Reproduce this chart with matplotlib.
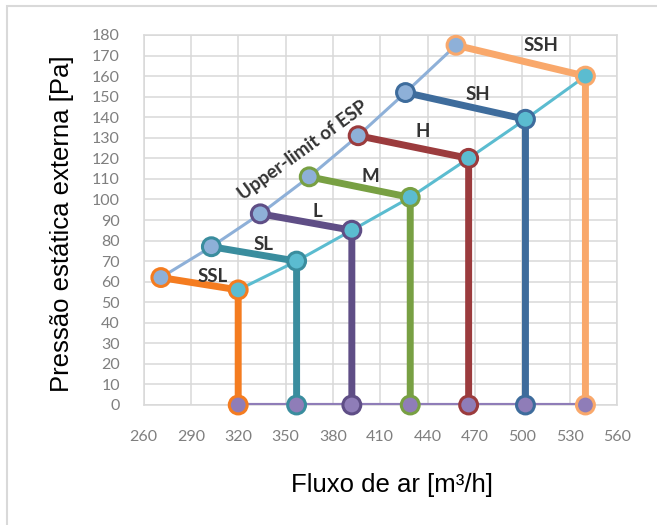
import matplotlib
matplotlib.use("Agg")
import matplotlib.pyplot as plt
from matplotlib.patches import Rectangle

# ---- data ----
speeds = ["SSL", "SL", "L", "M", "H", "SH", "SSH"]
upper_flow = [271, 303, 334, 365, 396, 426, 458]
upper_esp = [62, 77, 93, 111, 131, 152, 175]
lower_flow = [320, 357, 392, 429, 466, 502, 540]
lower_esp = [56, 70, 85, 101, 120, 139, 160]
zero_esp = [0, 0, 0, 0, 0, 0, 0]
speed_colors = ["#F47C20", "#3A8D9E", "#5F4E86", "#78A043", "#9B3B3D", "#3E6C9C", "#F9A86B"]
label_flow = [304, 336, 370, 404, 437, 472, 512]
label_esp = [62.5, 78, 94, 111, 133, 151, 175]
x_ticks = [260, 290, 320, 350, 380, 410, 440, 470, 500, 530, 560]
y_ticks = list(range(0, 181, 10))
upper_label = "Upper-limit of ESP"
upper_label_pos = (361, 124)

upper_color = "#8EB0D8"
lower_color = "#5BBCD0"
zero_color = "#8F7DB8"

fig = plt.figure(figsize=(6.57, 5.25), dpi=100)
# outer chart border
fig.patches.append(Rectangle((7 / 657, -0.1), 1.2, 1 - 6 / 525 + 0.1, transform=fig.transFigure,
                             fill=False, edgecolor="#D9D9D9", linewidth=1.5))
ax = fig.add_axes([143.5 / 657, 1 - 405 / 525, (617 - 143.5) / 657, (405 - 35) / 525])

# thick speed lines
for i, c in enumerate(speed_colors):
    ax.plot([upper_flow[i], lower_flow[i], lower_flow[i]],
            [upper_esp[i], lower_esp[i], zero_esp[i]],
            color=c, linewidth=5.0, solid_capstyle="butt", zorder=3)

# limit lines
ax.plot(upper_flow, upper_esp, color=upper_color, linewidth=2.2, zorder=4)
ax.plot(lower_flow, lower_esp, color=lower_color, linewidth=2.2, zorder=4)
ax.plot(lower_flow, zero_esp, color=zero_color, linewidth=3.0, zorder=4)

ms = 165
ax.scatter(upper_flow, upper_esp, s=ms, facecolors=upper_color, edgecolors=speed_colors,
           linewidths=2.2, zorder=5, clip_on=False)
ax.scatter(lower_flow, lower_esp, s=ms, facecolors=lower_color, edgecolors=speed_colors,
           linewidths=2.2, zorder=5, clip_on=False)
ax.scatter(lower_flow, zero_esp, s=ms, facecolors=zero_color, edgecolors=speed_colors,
           linewidths=2.2, zorder=5, clip_on=False)

for name, xf, ye in zip(speeds, label_flow, label_esp):
    ax.text(xf, ye, name, ha="center", va="center", fontsize=13.5, fontweight="bold",
            color="#333333", family="Lato", zorder=6)
ax.text(upper_label_pos[0], upper_label_pos[1], upper_label, ha="center", va="center",
        rotation=36, fontsize=13.5, fontweight="bold", color="#333333", family="Lato", zorder=6,
        rotation_mode="anchor")

ax.set_xlim(x_ticks[0], x_ticks[-1])
ax.set_ylim(0, 180)
ax.set_xticks(x_ticks)
ax.set_yticks(y_ticks)
ax.grid(True, color="#D9D9D9", linewidth=1.1, zorder=0)
ax.set_axisbelow(True)
for s in ax.spines.values():
    s.set_color("#D9D9D9")
    s.set_linewidth(1.1)
ax.tick_params(length=0, labelsize=11.5, labelcolor="#7F7F7F")
ax.tick_params(axis="y", pad=17)
ax.tick_params(axis="x", pad=18)
for lab in ax.get_xticklabels() + ax.get_yticklabels():
    lab.set_family("Lato")

ax.set_xlabel("Fluxo de ar [m³/h]", fontsize=18.5, family="Liberation Sans", color="#000000", va="center")
ax.set_ylabel("Pressão estática externa [Pa]", fontsize=18.5, family="Liberation Sans", color="#000000", va="center")
ax.xaxis.set_label_coords(0.525, -0.216)
ax.yaxis.set_label_coords(-0.172, 0.49)

fig.savefig("out.png", dpi=100)
